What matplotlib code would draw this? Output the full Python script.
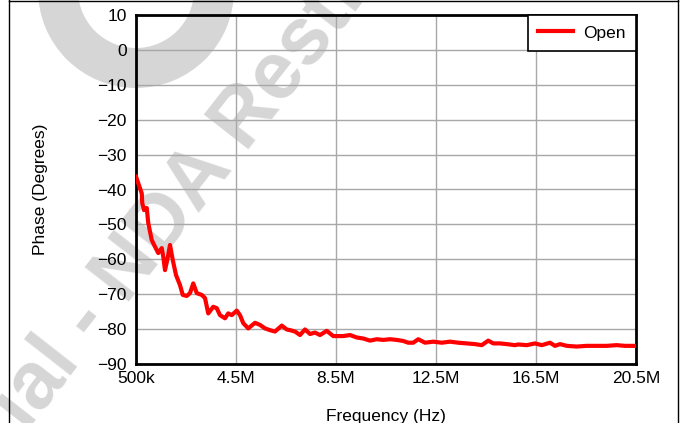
import matplotlib
matplotlib.use("Agg")
import matplotlib.pyplot as plt
from matplotlib.lines import Line2D
from matplotlib.patches import Wedge

plt.rcParams['font.family'] = ['Liberation Sans', 'DejaVu Sans']

# Frequency in MHz and phase in degrees
freq_mhz = [0.50, 0.59, 0.73, 0.75, 0.82, 0.93, 0.99, 1.13, 1.26, 1.39,
            1.53, 1.59, 1.66, 1.75, 1.86, 1.97, 2.10, 2.26, 2.37, 2.53,
            2.66, 2.79, 2.93, 3.13, 3.26, 3.39, 3.59, 3.73, 3.86, 4.06,
            4.19, 4.33, 4.53, 4.66, 4.79, 4.99, 5.26, 5.46, 5.66, 5.86,
            6.06, 6.33, 6.53, 6.66, 6.86, 7.06, 7.26, 7.46, 7.66, 7.86,
            8.13, 8.39, 8.79, 9.06, 9.33, 9.59, 9.86, 10.13, 10.39, 10.66,
            10.93, 11.19, 11.39, 11.59, 11.79, 12.06, 12.39, 12.73, 13.06, 13.39,
            13.73, 14.06, 14.33, 14.59, 14.79, 15.06, 15.33, 15.66, 15.79, 16.13,
            16.46, 16.73, 17.06, 17.26, 17.46, 17.73, 18.13, 18.53, 18.93, 19.33,
            19.73, 20.06, 20.50]
phase_open = [-36.3, -38.2, -41.1, -43.9, -45.9, -45.3, -49.6, -54.5, -56.4, -58.2,
              -56.8, -59.2, -63.1, -60.2, -55.9, -60.2, -64.5, -67.4, -70.2, -70.5,
              -69.7, -66.9, -69.7, -70.2, -71.1, -75.5, -73.6, -74.0, -76.0, -76.9,
              -75.5, -76.0, -74.7, -76.0, -78.3, -79.8, -78.2, -78.8, -79.8, -80.3,
              -80.7, -79.0, -80.1, -80.3, -80.7, -81.7, -80.1, -81.4, -81.0, -81.7,
              -80.5, -82.0, -82.0, -81.7, -82.4, -82.7, -83.3, -82.9, -83.1, -82.9,
              -83.1, -83.4, -83.9, -83.9, -82.9, -83.9, -83.6, -83.9, -83.6, -83.9,
              -84.1, -84.3, -84.6, -83.3, -84.1, -84.1, -84.3, -84.6, -84.4, -84.6,
              -84.1, -84.6, -83.9, -84.8, -84.3, -84.8, -85.0, -84.8, -84.8, -84.8,
              -84.6, -84.8, -84.8]

xticks_mhz = [0.5, 4.5, 8.5, 12.5, 16.5, 20.5]
xtick_labels = ['500k', '4.5M', '8.5M', '12.5M', '16.5M', '20.5M']
yticks = [10, 0, -10, -20, -30, -40, -50, -60, -70, -80, -90]

FS = 12.5
WM = '#d6d6d6'

fig = plt.figure(figsize=(6.84, 4.23), dpi=100)
ax = fig.add_axes([136/684, 1 - 364/423, 500/684, 349/423])
ax.set_facecolor('none')

# watermark (behind the axes content)
fig.add_artist(Wedge((1.36, 4.33), 0.98, 0, 360, width=0.40,
                     transform=fig.dpi_scale_trans, color=WM, zorder=-2, lw=0))
fig.text(126/684, 1 - 305/423, 'Confidential - ', rotation=52, rotation_mode='anchor',
         ha='right', va='baseline', fontsize=58, fontweight='bold', color=WM, zorder=-2)
fig.text(126/684, 1 - 305/423, 'NDA Restrictions', rotation=52, rotation_mode='anchor',
         ha='left', va='baseline', fontsize=58, fontweight='bold', color=WM, zorder=-2)

ax.plot(freq_mhz, phase_open, color='#ff0000', lw=3.0, label='Open',
        solid_joinstyle='round', zorder=3)

ax.set_xlim(0.5, 20.5)
ax.set_ylim(-90, 10)
ax.set_xticks(xticks_mhz)
ax.set_xticklabels(xtick_labels)
ax.set_yticks(yticks)
ax.tick_params(axis='both', length=0, labelsize=FS, colors='black')
ax.tick_params(axis='x', pad=5)
ax.tick_params(axis='y', pad=6.5)
ax.grid(True, color='#a8a8a8', lw=1.0)
ax.set_axisbelow(True)
for s in ax.spines.values():
    s.set_linewidth(2.0)
    s.set_color('black')

ax.set_xlabel('Frequency (Hz)', fontsize=FS, va='top')
ax.xaxis.set_label_coords(0.5, -0.128)
ax.set_ylabel('Phase (Degrees)', fontsize=FS, va='center')
ax.yaxis.set_label_coords(-0.19, 0.5)

leg = ax.legend(loc='upper right', borderaxespad=0, fancybox=False,
                fontsize=FS, handlelength=2.0, framealpha=1,
                borderpad=0.6, handletextpad=0.6)
leg.get_frame().set_edgecolor('black')
leg.get_frame().set_linewidth(1.2)

# outer frame lines
fig.add_artist(Line2D([8.5/684, 8.5/684], [0, 1], transform=fig.transFigure, color='black', lw=1))
fig.add_artist(Line2D([677.5/684, 677.5/684], [0, 1], transform=fig.transFigure, color='black', lw=1))
fig.add_artist(Line2D([8.5/684, 677.5/684], [1 - 1.5/423, 1 - 1.5/423], transform=fig.transFigure, color='black', lw=1))

fig.savefig('out.png', dpi=100)
